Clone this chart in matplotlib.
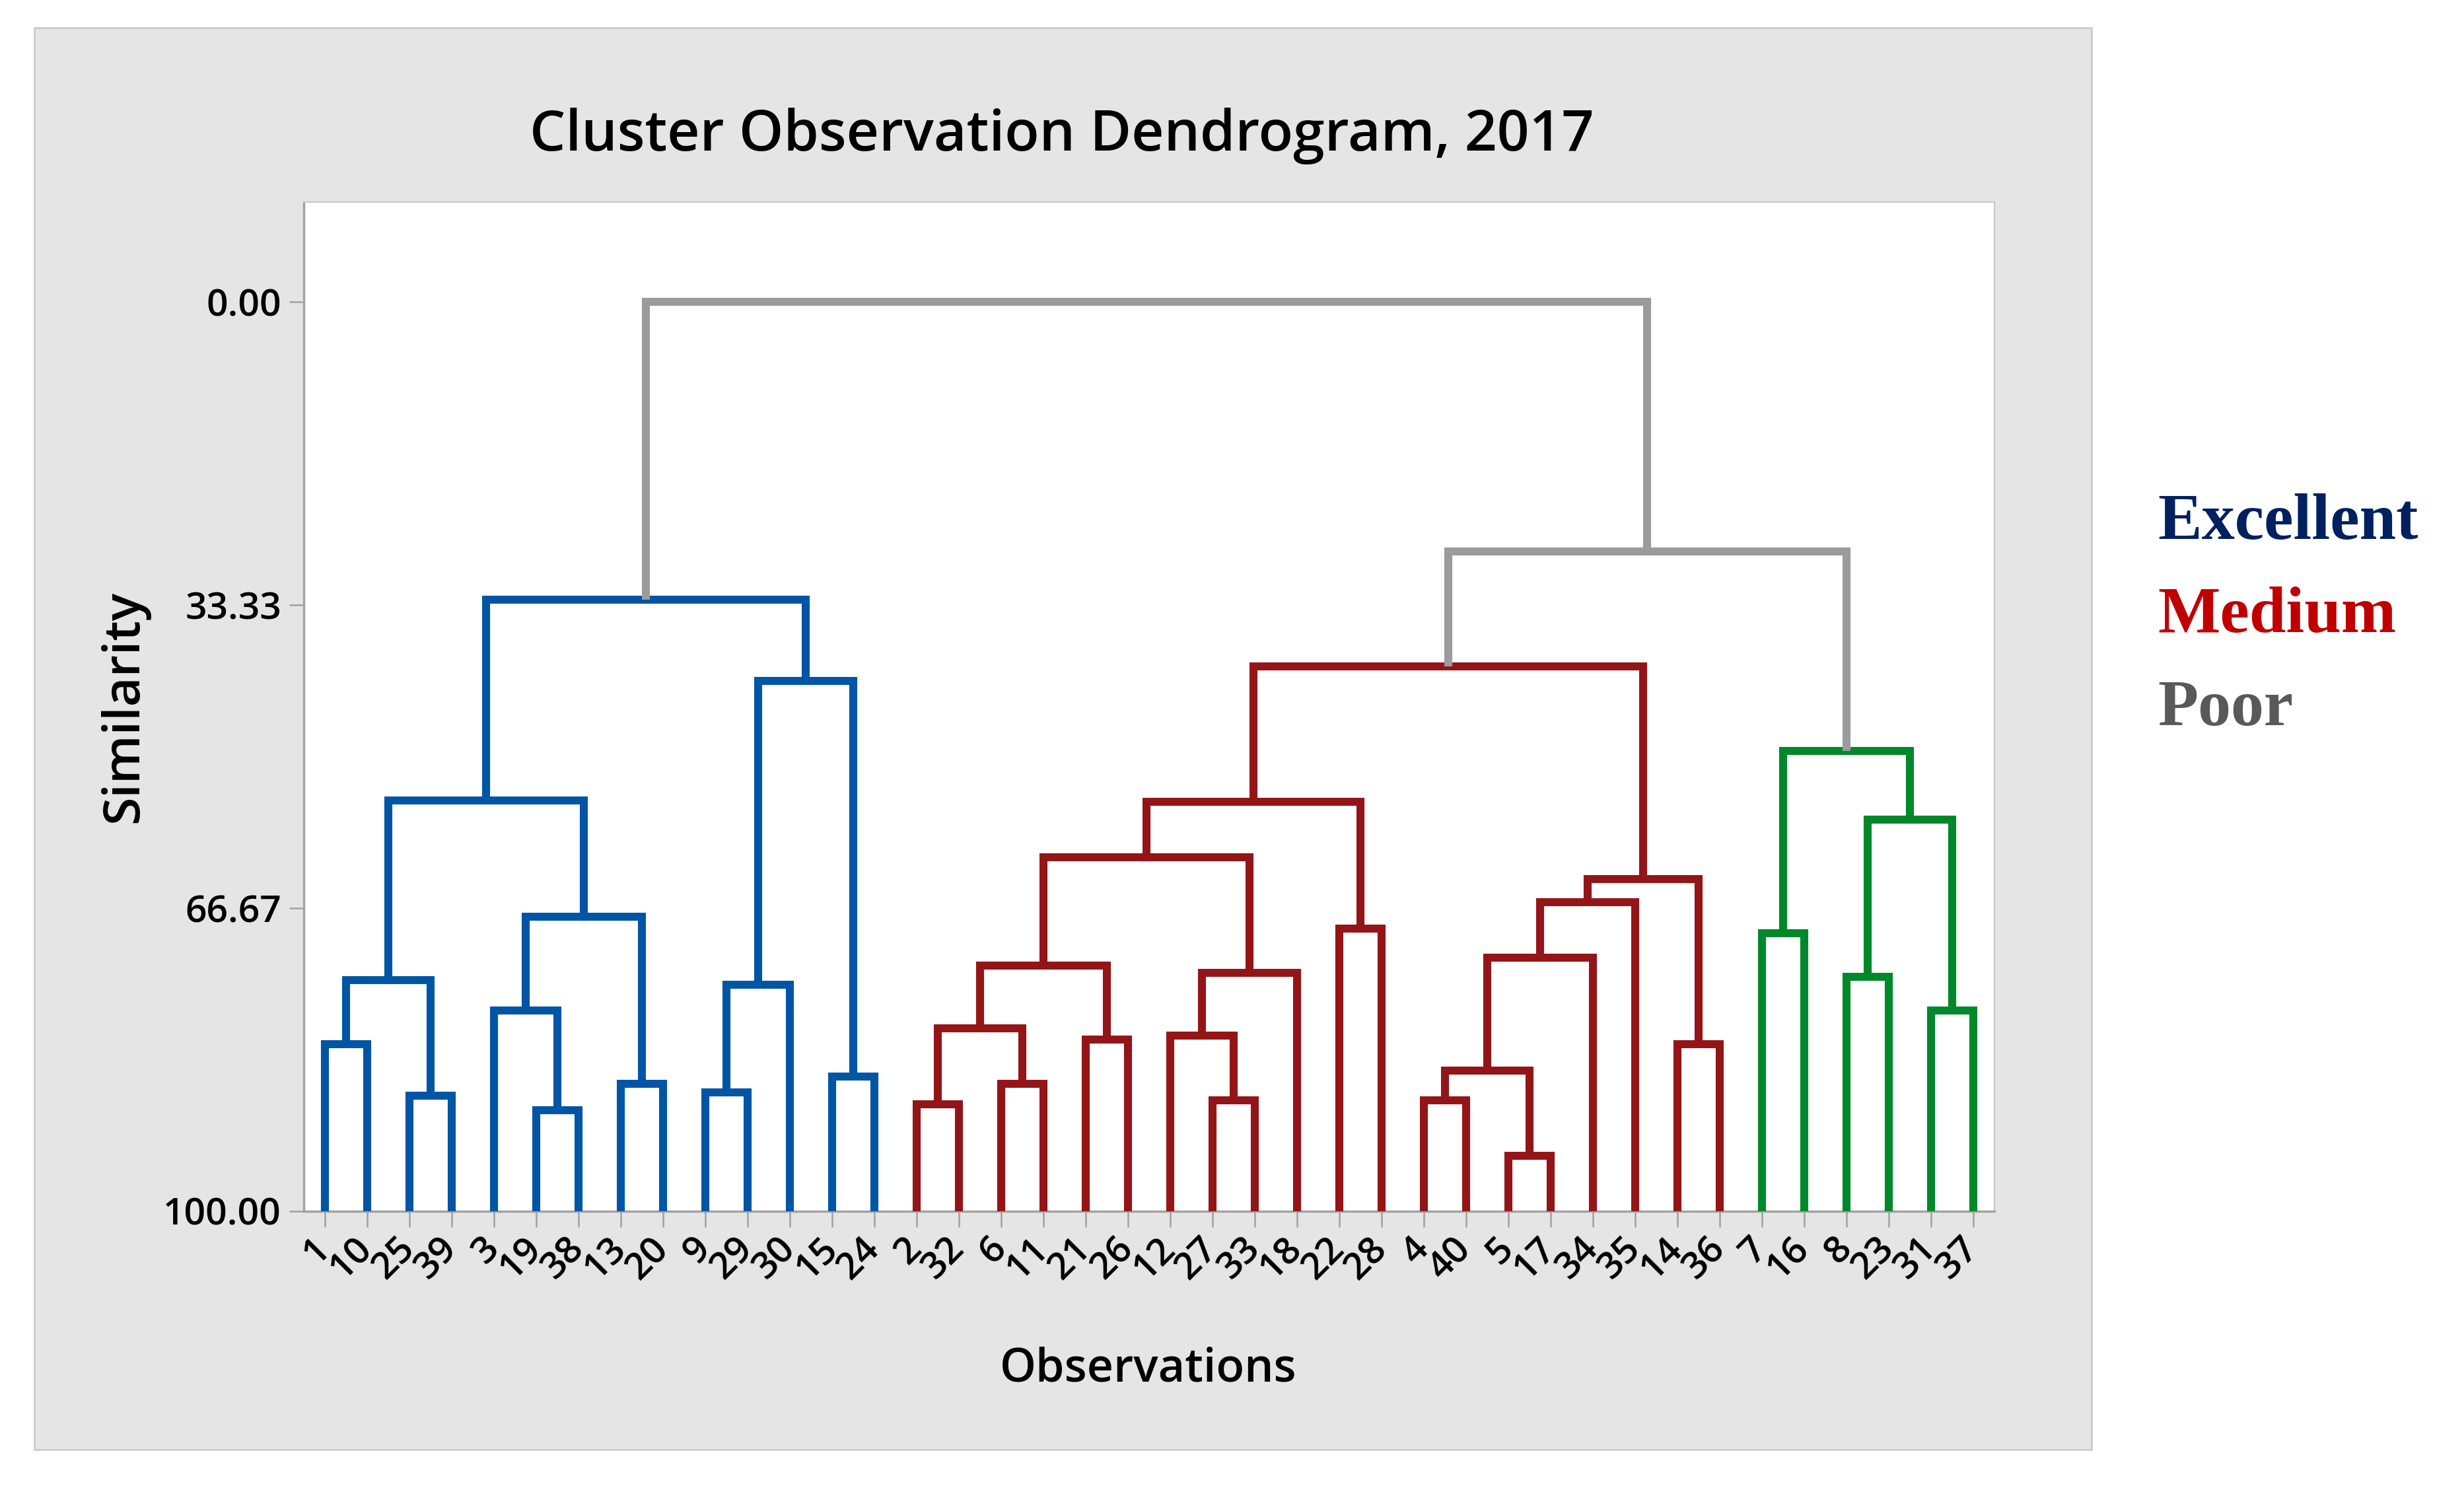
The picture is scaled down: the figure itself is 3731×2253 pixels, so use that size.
import matplotlib
matplotlib.use('Agg')
import matplotlib.pyplot as plt
from matplotlib.patches import Rectangle

# Ordem das observações no eixo x (folhas do dendrograma)
leaf_order = [1, 10, 25, 39, 3, 19, 38, 13, 20, 9, 29, 30, 15, 24,
              2, 32, 6, 11, 21, 26, 12, 27, 33, 18, 22, 28, 4, 40, 5, 17,
              34, 35, 14, 36, 7, 16, 8, 23, 31, 37]

# Grupos finais (cores)
blue_group = [1, 10, 25, 39, 3, 19, 38, 13, 20, 9, 29, 30, 15, 24]
red_group = [2, 32, 6, 11, 21, 26, 12, 27, 33, 18, 22, 28, 4, 40, 5, 17,
             34, 35, 14, 36]
green_group = [7, 16, 8, 23, 31, 37]

# Fusões: filho esquerdo, filho direito, similaridade (c1, c2, ... = fusões anteriores)
merge_left = [1, 25, "c1", 19, 3, 13, "c5", "c3", 9, "c9", 15, "c10", "c8",
              2, 6, "c14", 21, "c16", 27, 12, "c20", "c18", 22, "c22",
              4, 5, "c25", "c27", "c28", 14, "c29", "c24",
              7, 8, 31, "c34", "c33", "c32", "c13"]
merge_right = [10, 39, "c2", 38, "c4", 20, "c6", "c7", 29, 30, 24, "c11", "c12",
               32, 11, "c15", 26, "c17", 33, "c19", 18, "c21", 28, "c23",
               40, 17, "c26", 34, 35, 36, "c30", "c31",
               16, 23, 37, "c35", "c36", "c37", "c38"]
merge_sim = [81.6, 87.3, 74.6, 88.9, 77.9, 86.0, 67.6, 54.8, 86.9, 75.1, 85.2, 41.7, 32.7,
             88.2, 86.0, 79.9, 81.1, 73.0, 87.8, 80.7, 73.8, 61.1, 68.9, 55.0,
             87.8, 93.9, 84.5, 72.1, 66.0, 81.6, 63.5, 40.1,
             69.4, 74.2, 77.9, 56.9, 49.4, 27.4, 0.0]

y_ticks = [0, 33.33, 66.67, 100]
y_tick_labels = ["0.00", "33.33", "66.67", "100.00"]

legend_labels = ["Excellent", "Medium", "Poor"]

# Cores
cor_grupos = [(blue_group, "#0055A5"), (red_group, "#941518"), (green_group, "#00882A")]
cor_cinza = "#9B9B9B"
cor_legenda = ["#002060", "#C00000", "#595959"]

plt.rcParams['font.family'] = ['Open Sans', 'DejaVu Sans']

fig = plt.figure(figsize=(3731 / 300, 2253 / 300), dpi=300, facecolor="white")

# Painel cinza de fundo
fig.patches.append(Rectangle((0.01394, 0.02574), 0.8349, 0.9556, transform=fig.transFigure,
                             facecolor="#E5E5E5", edgecolor="#C8C8C8", linewidth=0.6,
                             zorder=-1))

ax = fig.add_axes([0.1233, 0.1860, 0.6861, 0.6782])
ax.set_facecolor("white")

# Posições e alturas das folhas
pos = {}
altura = {}
membros = {}
for i, obs in enumerate(leaf_order):
    pos[obs] = i + 1
    altura[obs] = 100.0
    membros[obs] = {obs}

# Desenha cada fusão
for k, (a, b, s) in enumerate(zip(merge_left, merge_right, merge_sim)):
    nome = "c%d" % (k + 1)
    xa, xb = pos[a], pos[b]
    ya, yb = altura[a], altura[b]
    mem = membros[a] | membros[b]
    cor = cor_cinza
    for grupo, c in cor_grupos:
        if mem <= set(grupo):
            cor = c
    ax.plot([xa, xa, xb, xb], [ya, s, s, yb], color=cor, linewidth=2.9,
            solid_joinstyle='miter', solid_capstyle='butt', zorder=3)
    pos[nome] = (xa + xb) / 2
    altura[nome] = s
    membros[nome] = mem

ax.set_xlim(0.5, 40.5)
ax.set_ylim(100, -11)

ax.set_yticks(y_ticks)
ax.set_yticklabels(y_tick_labels, fontsize=13.7, fontweight='semibold')
ax.set_xticks(range(1, len(leaf_order) + 1))
ax.set_xticklabels([str(v) for v in leaf_order], fontsize=13.7, rotation=45,
                   ha='right', va='center', rotation_mode='anchor', fontweight='semibold')

ax.tick_params(axis='y', length=5.3, width=0.6, color="#A0A0A0", pad=2.9)
ax.tick_params(axis='x', length=5.8, width=0.6, color="#A0A0A0", pad=6)

for lado in ['left', 'bottom']:
    ax.spines[lado].set_color("#A0A0A0")
    ax.spines[lado].set_linewidth(0.8)
for lado in ['top', 'right']:
    ax.spines[lado].set_color("#C8C8C8")
    ax.spines[lado].set_linewidth(0.5)

# Títulos
fig.text(0.431, 0.899, "Cluster Observation Dendrogram, 2017", ha='center', va='baseline',
         fontsize=20.6, fontweight='semibold')
fig.text(0.466, 0.0715, "Observations", ha='center', va='baseline', fontsize=16.8,
         fontweight='semibold')
fig.text(0.0504, 0.525, "Similarity", ha='center', va='center', rotation=90, fontsize=18.5,
         fontweight='semibold')

# Legenda em texto
ys_legenda = [0.6378, 0.5752, 0.5127]
for texto, y, c in zip(legend_labels, ys_legenda, cor_legenda):
    fig.text(0.8756, y, texto, color=c, fontsize=24, fontweight='bold',
             family=['Liberation Serif', 'DejaVu Serif'], va='baseline', ha='left')

fig.savefig("out.png", dpi=300, facecolor="white")
